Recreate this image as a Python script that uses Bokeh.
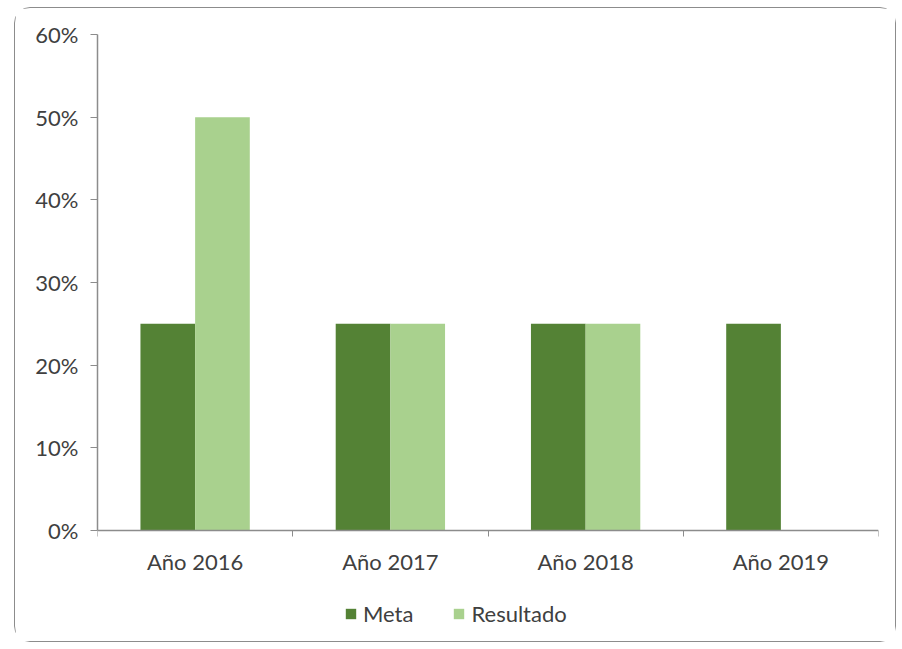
import numpy as np
from bokeh.plotting import figure
from bokeh.models import ColumnDataSource, FixedTicker, NumeralTickFormatter, Legend, LegendItem, Range1d
from bokeh.embed import file_html
from bokeh.resources import INLINE

categories = ["Año 2016", "Año 2017", "Año 2018", "Año 2019"]
meta = [0.25, 0.25, 0.25, 0.25]
resultado = [0.50, 0.25, 0.25, np.nan]
series_names = ["Meta", "Resultado"]
colors = ["#548235", "#a9d18e"]
y_ticks = [0, 0.1, 0.2, 0.3, 0.4, 0.5, 0.6]
y_max = 0.6

FONT = "Lato"
TXT = "#404040"
AX = "#8c8c8c"

# layout in pixels
W, H = 882, 635
TOP, BOTTOM, LEFT, RIGHT = 26, 3, 82, 19
PLOT_H = 496  # pixel height of the 0..60% band
frame_h = H - TOP - BOTTOM
y_min = -y_max * (frame_h - PLOT_H) / PLOT_H  # extra room under the axis for the legend

idx = np.arange(len(categories))
bar_w = 0.28
src = ColumnDataSource(dict(
    x_meta=idx + 0.5 - bar_w / 2,
    x_res=idx + 0.5 + bar_w / 2,
    meta=meta,
    resultado=resultado,
))

p = figure(width=W, height=H, output_backend="svg", toolbar_location=None,
           x_range=Range1d(0, len(categories)), y_range=Range1d(y_min, y_max),
           min_border_left=LEFT, min_border_right=RIGHT, min_border_top=TOP, min_border_bottom=BOTTOM)
p.styles = {"margin-left": "14px", "margin-top": "7px",
            "border": "1px solid #8c8c8c", "border-radius": "16px"}
p.outline_line_color = None
p.xgrid.grid_line_color = None
p.ygrid.grid_line_color = None

r1 = p.vbar(x="x_meta", top="meta", width=bar_w, source=src, fill_color=colors[0], line_color=None)
r2 = p.vbar(x="x_res", top="resultado", width=bar_w, source=src, fill_color=colors[1], line_color=None)

# x axis (drawn at y = 0)
xa = p.xaxis[0]
xa.fixed_location = 0
xa.ticker = FixedTicker(ticks=list(idx + 0.5), minor_ticks=list(range(len(categories) + 1)))
xa.major_label_overrides = {float(i + 0.5): c for i, c in enumerate(categories)}
xa.major_tick_line_color = None
xa.major_tick_out = 0
xa.major_tick_in = 0
xa.minor_tick_line_color = AX
xa.minor_tick_out = 6
xa.minor_tick_in = 0
xa.axis_line_color = AX
xa.axis_line_width = 1.5
xa.major_label_text_font = FONT
xa.major_label_text_font_size = "22px"
xa.major_label_text_color = TXT
xa.major_label_standoff = 11

# y axis
ya = p.yaxis[0]
ya.bounds = (0, y_max)
ya.ticker = FixedTicker(ticks=y_ticks)
ya.formatter = NumeralTickFormatter(format="0%")
ya.major_tick_line_color = AX
ya.major_tick_out = 7
ya.major_tick_in = 0
ya.minor_tick_line_color = None
ya.axis_line_color = AX
ya.axis_line_width = 1.5
ya.major_label_text_font = FONT
ya.major_label_text_font_size = "22px"
ya.major_label_text_color = TXT
ya.major_label_standoff = 12

legend = Legend(items=[LegendItem(label=series_names[0], renderers=[r1]),
                       LegendItem(label=series_names[1], renderers=[r2])],
                orientation="horizontal", location=(247, 13))
legend.border_line_color = None
legend.background_fill_alpha = 0
legend.padding = 0
legend.margin = 0
legend.spacing = 39
legend.glyph_width = 13
legend.glyph_height = 13
legend.label_standoff = 6
legend.label_text_font = FONT
legend.label_text_font_size = "22px"
legend.label_text_color = TXT
p.add_layout(legend, "center")

open("out.html", "w").write(file_html(p, INLINE))
